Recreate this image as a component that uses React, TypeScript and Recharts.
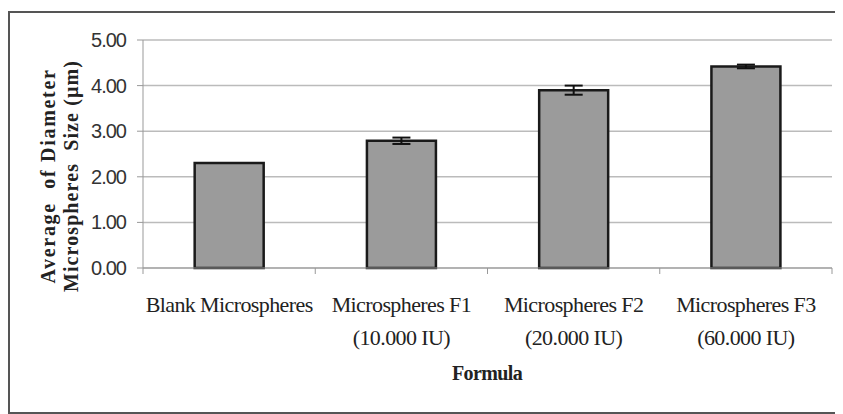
import React from "react";
import { BarChart, Bar, XAxis, YAxis, CartesianGrid, ErrorBar } from "recharts";

const categories = [
  ["Blank Microspheres", ""],
  ["Microspheres F1", "(10.000 IU)"],
  ["Microspheres F2", "(20.000 IU)"],
  ["Microspheres F3", "(60.000 IU)"],
];
const diameters = [2.3, 2.79, 3.9, 4.42];
const errors = [0, 0.07, 0.1, 0.04];
const yTicks = [0, 1, 2, 3, 4, 5];

const data = categories.map((c, i) => ({
  name: c[0],
  sub: c[1],
  size: diameters[i],
  err: errors[i],
}));

const CHART_W = 835;
const CHART_H = 400;
const PLOT_LEFT = 135;
const PLOT_RIGHT = 11;
const BAND = (CHART_W - PLOT_LEFT - PLOT_RIGHT) / categories.length;

const serif = "'Liberation Serif', 'Times New Roman', serif";
const sans = "'Liberation Sans', Arial, sans-serif";

function CategoryTick(props: any) {
  const { x, y, payload, index } = props;
  const row = data[index] || { sub: "" };
  const left = x - BAND / 2;
  return (
    <g>
      <line x1={left} y1={y - 8} x2={left} y2={y - 2} stroke="#999" />
      {index === categories.length - 1 && (
        <line x1={left + BAND} y1={y - 8} x2={left + BAND} y2={y - 2} stroke="#999" />
      )}
      <text
        x={x}
        y={y + 36}
        textAnchor="middle"
        fontFamily={serif}
        fontSize={22}
        letterSpacing={-0.6}
        fill="#222"
      >
        {payload.value}
      </text>
      {row.sub && (
        <text
          x={x}
          y={y + 69}
          textAnchor="middle"
          fontFamily={serif}
          fontSize={22}
          letterSpacing={-0.6}
          fill="#222"
        >
          {row.sub}
        </text>
      )}
    </g>
  );
}

function ValueTick(props: any) {
  const { x, y, payload } = props;
  return (
    <text
      x={x - 9}
      y={y + 7}
      textAnchor="end"
      fontFamily={sans}
      fontSize={20}
      letterSpacing={-1}
      fill="#333"
    >
      {payload.value.toFixed(2)}
    </text>
  );
}

export default function App() {
  return (
    <div style={{ position: "relative", width: CHART_W, height: 406, overflow: "hidden" }}>
      <div
        style={{
          position: "absolute",
          left: 0,
          top: 3,
          width: 900,
          height: 403,
          border: "2px solid #555",
          boxSizing: "border-box",
        }}
      />
      <div style={{ position: "absolute", left: 0, top: 0 }}>
        <BarChart
          width={CHART_W}
          height={CHART_H}
          data={data}
          margin={{ top: 32, right: PLOT_RIGHT, bottom: 0, left: 0 }}
          barCategoryGap="30%"
        >
          <CartesianGrid vertical={false} stroke="#bbb" strokeWidth={1.5} />
          <XAxis
            dataKey="name"
            height={140}
            interval={0}
            stroke="#999"
            tickLine={false}
            tick={<CategoryTick />}
          />
          <YAxis
            width={PLOT_LEFT}
            domain={[0, 5]}
            ticks={yTicks}
            stroke="#999"
            tickSize={6}
            tick={<ValueTick />}
          />
          <Bar
            dataKey="size"
            fill="#9b9b9b"
            stroke="#1a1a1a"
            strokeWidth={2.5}
            isAnimationActive={false}
          >
            <ErrorBar dataKey="err" width={9} stroke="#111" strokeWidth={2} />
          </Bar>
          <text
            x={47}
            y={168}
            transform="rotate(-90 47 168)"
            textAnchor="middle"
            fontFamily={serif}
            fontWeight="bold"
            fontSize={20}
            letterSpacing={1.7}
            style={{ whiteSpace: "pre" }}
            fill="#222"
          >
            Average  of Diameter
          </text>
          <text
            x={47}
            y={191}
            transform="rotate(-90 47 168)"
            textAnchor="middle"
            fontFamily={serif}
            fontWeight="bold"
            fontSize={20}
            letterSpacing={1.1}
            style={{ whiteSpace: "pre" }}
            fill="#222"
          >
            Microspheres  Size (µm)
          </text>
          <text
            x={479}
            y={372}
            textAnchor="middle"
            fontFamily={serif}
            fontWeight="bold"
            fontSize={20}
            letterSpacing={-0.6}
            fill="#222"
          >
            Formula
          </text>
        </BarChart>
      </div>
    </div>
  );
}
